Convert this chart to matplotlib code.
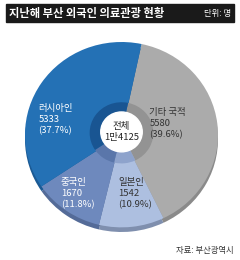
import matplotlib.pyplot as plt
from matplotlib.patches import Rectangle, Circle

plt.rcParams['font.family'] = ['Noto Sans CJK KR', 'DejaVu Sans']

labels = ['기타 국적', '일본인', '중국인', '러시아인']
values = [5580, 1542, 1670, 5333]
pcts = ['39.6%', '10.9%', '11.8%', '37.7%']
colors = ['#ababab', '#adbfe0', '#6e89bd', '#2471b5']
rim_colors = ['#8a8a8a', '#7f8fae', '#546b98', '#1b5a94']
ring_colors = ['#939393', '#8ea3cc', '#5a76aa', '#195592']
text_colors = ['#333333', '#333333', 'white', 'white']
total = '1만4125'

fig = plt.figure(figsize=(2.4, 2.6), dpi=100)

# title bar
fig.patches.append(Rectangle((6 / 240, 1 - 22 / 260), 228 / 240, 18 / 260,
                             transform=fig.transFigure, color='#1a1a1a'))
fig.text(9 / 240, 1 - 13.5 / 260, '지난해 부산 외국인 의료관광 현황', color='white',
         fontsize=8.1, fontweight='bold', va='center', ha='left')
fig.text(231 / 240, 1 - 13.5 / 260, '단위: 명', color='white',
         fontsize=6.0, va='center', ha='right')

ax = fig.add_axes([25 / 240, 28 / 260, 193 / 240, 190 / 260])
ax.axis('off')

start = 78
# bottom rim (3d look)
ax.pie(values, colors=rim_colors, startangle=start, counterclock=False,
       radius=1.0, center=(0, -0.05), frame=True)
ax.pie(values, colors=colors, startangle=start, counterclock=False,
       radius=1.0, frame=True)
ax.pie(values, colors=ring_colors, startangle=start, counterclock=False,
       radius=0.33, center=(0, 0.02), frame=True)
ax.add_patch(Circle((0, 0.03), 0.215, color='white', zorder=5))
ax.set_xlim(-1, 1)
ax.set_ylim(-1.05, 1)
ax.set_aspect('auto')

pos = {'기타 국적': (0.29, 0.12), '일본인': (-0.03, -0.64),
       '중국인': (-0.63, -0.64), '러시아인': (-0.86, 0.16)}
for lab, v, p, tc in zip(labels, values, pcts, text_colors):
    x, y = pos[lab]
    ax.text(x, y, f'{lab}\n{v}\n({p})', color=tc, fontsize=6.8,
            ha='left', va='center', linespacing=1.3, zorder=6)

ax.text(0, 0.03, f'전체\n{total}', color='#222222', fontsize=6.8,
        ha='center', va='center', linespacing=1.3, zorder=6)

fig.text(234 / 240, 1 - 250 / 260, '자료: 부산광역시', color='#333333',
         fontsize=6.0, ha='right', va='center')

fig.savefig('out.png', dpi=100)
